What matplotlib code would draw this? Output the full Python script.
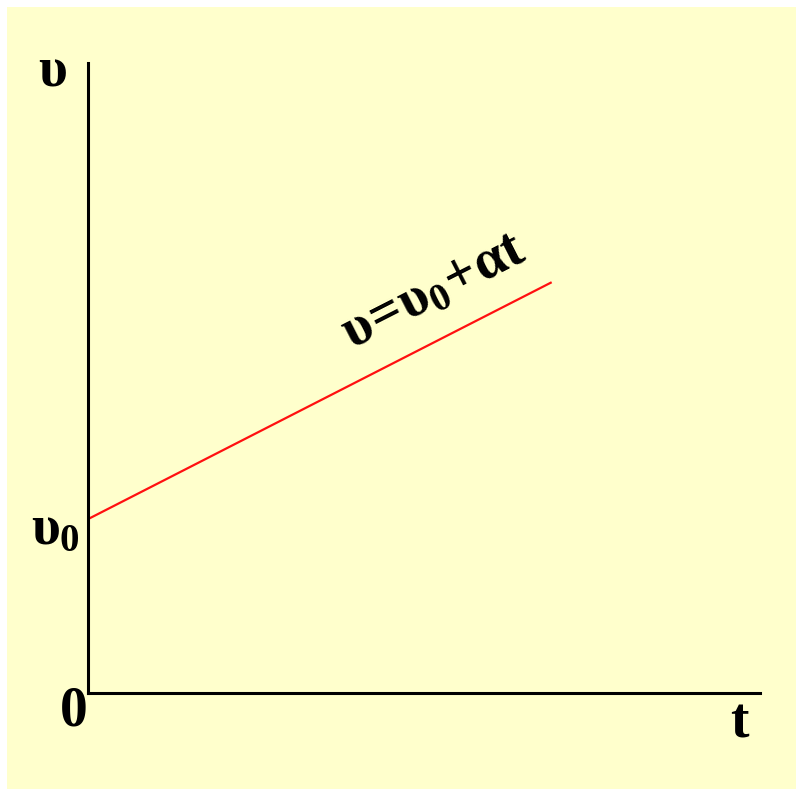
import matplotlib.pyplot as plt
from matplotlib.patches import Rectangle

# Velocity-time graph for uniform acceleration
t_vals = [0.0, 6.9]
v_vals = [2.76, 6.52]

plt.rcParams['mathtext.fontset'] = 'custom'
plt.rcParams['mathtext.rm'] = 'Liberation Serif:bold'
plt.rcParams['mathtext.it'] = 'Liberation Serif:bold'
plt.rcParams['mathtext.bf'] = 'Liberation Serif:bold'

W, H = 796, 789
fig = plt.figure(figsize=(W / 100, H / 100), dpi=100)
fig.patch.set_facecolor('white')
bg = Rectangle((7 / W, 0), 1, 1 - 7 / H, transform=fig.transFigure,
               facecolor='#FFFFCC', edgecolor='none', zorder=-10)
fig.add_artist(bg)

# axes box: x 88..760 px, y 63..693 px
ax = fig.add_axes([88 / W, 1 - 693 / H, (760 - 88) / W, (693 - 63) / H])
ax.set_zorder(1)
ax.set_facecolor('none')
ax.set_xlim(0, 10)
ax.set_ylim(0, 10)
for s in ['top', 'right']:
    ax.spines[s].set_visible(False)
for s in ['left', 'bottom']:
    ax.spines[s].set_linewidth(2.2)
    ax.spines[s].set_color('black')
ax.set_xticks([])
ax.set_yticks([])

ax.plot(t_vals, v_vals, color='#FF1010', linewidth=1.6, solid_capstyle='butt', clip_on=False)

fs = 40
kw = dict(fontsize=fs, transform=fig.transFigure, ha='center', va='center',
          family='Liberation Serif', fontweight='bold')
fig.text(52 / W, 1 - 72 / H, '$υ$', **kw)
fig.text(55 / W, 1 - 530 / H, '$υ_0$', **kw)
fig.text(74 / W, 1 - 711 / H, '0', **kw)
fig.text(739 / W, 1 - 724 / H, 't', **kw)
fig.text(434 / W, 1 - 292 / H, '$υ\\!=\\!υ_0\\!+\\!αt$', rotation=27, **kw)

plt.savefig('out.png', dpi=100)
